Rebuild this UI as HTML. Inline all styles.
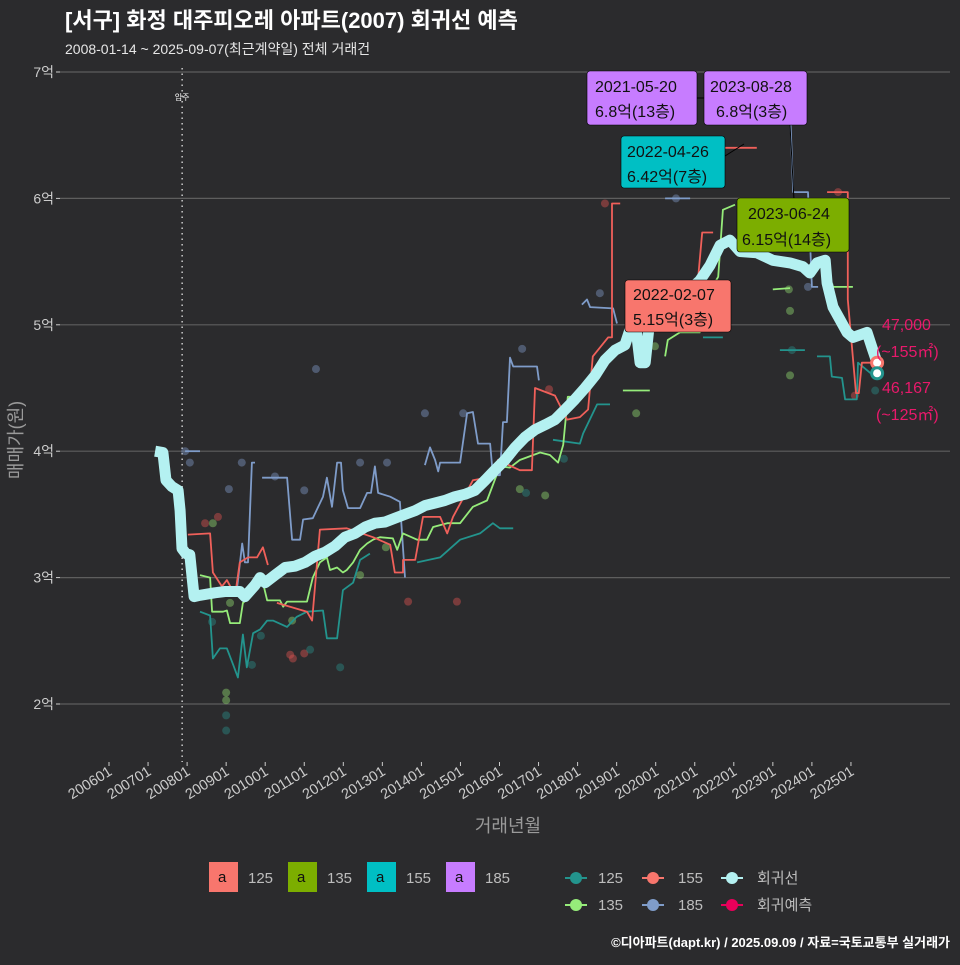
<!DOCTYPE html>
<html><head><meta charset="utf-8">
<style>
html,body{margin:0;padding:0;background:#2b2b2d;}
body{width:960px;height:960px;overflow:hidden;font-family:"Liberation Sans","Noto Sans CJK KR",sans-serif;}
svg text{font-family:"Liberation Sans","Noto Sans CJK KR",sans-serif;}
</style></head>
<body>
<svg id="chart" width="960" height="960" xmlns="http://www.w3.org/2000/svg">
<rect width="960" height="960" fill="#2b2b2d"/>
<text x="65" y="28" fill="#ffffff" font-size="22" font-weight="bold">[서구] 화정 대주피오레 아파트(2007) 회귀선 예측</text>
<text x="65" y="54" fill="#e6e6e6" font-size="14">2008-01-14 ~ 2025-09-07(최근계약일) 전체 거래건</text>
<g id="grid"></g>
<g id="axes"></g>
<g id="series"></g>
<text transform="translate(22,440) rotate(-90)" text-anchor="middle" fill="#9a9a9a" font-size="18">매매가(원)</text>
<text x="508" y="832" text-anchor="middle" fill="#9a9a9a" font-size="18">거래년월</text>
<text x="950" y="947" text-anchor="end" fill="#ffffff" font-size="13" font-weight="bold">©디아파트(dapt.kr) / 2025.09.09 / 자료=국토교통부 실거래가</text>
</svg>
<script>
// ---- data ----
const yTicks = [2,3,4,5,6,7];
const yTickLabels = ['2억','3억','4억','5억','6억','7억'];
const xTickYears = [2006,2007,2008,2009,2010,2011,2012,2013,2014,2015,2016,2017,2018,2019,2020,2021,2022,2023,2024,2025];
const xTickLabels = ['200601','200701','200801','200901','201001','201101','201201','201301','201401','201501','201601','201701','201801','201901','202001','202101','202201','202301','202401','202501'];
const moveInYear = 2007.95;

const regT = [2007.18,2007.38,2007.46,2007.61,2007.77,2007.82,2007.87,2007.97,2008.07,2008.18,2008.33,2008.71,2008.97,2009.23,2009.35,2009.48,2009.74,2009.87,2010.0,2010.25,2010.51,2010.76,2011.02,2011.28,2011.53,2011.79,2012.04,2012.30,2012.56,2012.81,2013.07,2013.32,2013.58,2013.84,2014.09,2014.35,2014.60,2014.86,2015.12,2015.37,2015.63,2015.88,2016.14,2016.40,2016.65,2016.91,2017.17,2017.42,2017.68,2017.93,2018.19,2018.45,2018.70,2018.96,2019.21,2019.34,2019.47,2019.60,2019.73,2019.85,2020.11,2020.37,2020.62,2020.88,2021.13,2021.39,2021.65,2021.90,2022.16,2022.59,2023.00,2023.44,2023.77,2023.95,2024.13,2024.34,2024.39,2024.54,2024.72,2024.90,2025.05,2025.41,2025.54,2025.67];
const regV = [4.00,3.99,3.77,3.72,3.69,3.53,3.23,3.19,3.18,2.85,2.86,2.88,2.89,2.89,2.89,2.85,2.94,3.0,2.96,3.02,3.08,3.09,3.12,3.17,3.20,3.25,3.32,3.35,3.40,3.43,3.44,3.47,3.50,3.53,3.57,3.59,3.61,3.64,3.66,3.69,3.77,3.85,3.93,4.03,4.11,4.17,4.21,4.25,4.33,4.41,4.50,4.60,4.72,4.80,4.84,4.96,5.04,4.70,4.70,5.04,5.08,5.08,5.20,5.28,5.35,5.47,5.63,5.67,5.58,5.57,5.51,5.49,5.46,5.41,5.49,5.51,5.33,5.14,5.04,4.94,4.90,4.94,4.82,4.70];

const red155T = [
 [2008.02,2008.59,2008.66,2008.89,2009.02,2009.23,2009.35,2009.56,2009.79,2009.94,2010.07],
 [2010.30,2011.07,2011.20,2011.40,2012.09,2012.76,2013.20,2013.32,2013.53,2013.53,2013.84,2014.04,2014.48,2014.66,2014.81,2015.32,2015.83,2015.96,2016.52,2016.83,2016.91,2017.42,2017.73,2018.06,2018.27,2018.39,2018.78,2018.88,2018.88,2019.09],
 [2021.08,2021.19,2021.47],
 [2021.65,2022.59],
 [2024.39,2024.92,2024.92,2025.13,2025.20,2025.28,2025.67]];
const red155V = [
 [3.34,3.35,3.04,2.93,2.98,2.86,3.12,3.16,3.16,3.24,3.10],
 [2.80,2.73,2.66,3.38,3.39,3.32,3.26,3.04,3.04,3.14,3.14,3.48,3.48,3.35,3.48,3.77,3.80,3.93,3.85,3.85,4.50,4.44,4.25,4.27,4.33,4.75,4.90,4.90,5.96,5.96],
 [5.35,5.73,5.73],
 [6.40,6.40],
 [6.05,6.05,5.20,4.46,4.46,4.70,4.70]];

const green135T = [
 [2008.33,2008.59,2008.64,2008.92,2009.02,2009.10,2009.35,2009.43,2009.61,2009.94,2010.05,2010.38,2010.46,2010.56,2011.07,2011.22,2011.40,2011.58,2011.66,2011.84,2011.99,2012.09,2012.25,2012.43,2012.61,2012.76,2012.94,2013.27,2013.38,2013.53,2013.89,2014.14,2014.30,2014.66,2014.99,2015.32,2015.68,2016.01,2016.27,2016.52,2017.04,2017.29,2017.50,2017.63,2017.75,2017.86],
 [2019.16,2019.85],
 [2020.24,2020.31,2020.62,2021.13,2021.26,2021.60,2021.72,2022.03],
 [2023.00,2023.44],
 [2024.46,2025.05]];
const green135V = [
 [3.02,3.00,2.73,2.73,2.74,2.64,2.64,2.80,2.85,2.96,2.82,2.82,2.77,2.81,2.81,3.00,3.12,3.16,3.06,3.08,3.04,3.06,3.12,3.22,3.27,3.30,3.32,3.31,3.22,3.35,3.30,3.30,3.40,3.43,3.43,3.56,3.61,3.88,3.87,3.93,3.99,3.97,3.91,4.05,4.43,4.43],
 [4.48,4.48],
 [4.75,4.88,4.94,4.94,5.20,5.38,5.91,5.95],
 [5.28,5.29],
 [5.30,5.30]];

const teal125T = [
 [2008.33,2008.59,2008.66,2008.84,2009.02,2009.18,2009.30,2009.43,2009.53,2009.69,2009.87,2010.05,2010.20,2010.56,2010.81,2011.07,2011.48,2011.58,2011.84,2011.99,2012.25,2012.43,2012.68],
 [2013.89,2014.48,2014.99,2015.50,2015.83,2016.01,2016.35],
 [2017.37,2018.06,2018.14,2018.50,2018.83],
 [2021.21,2021.72],
 [2023.18,2023.82],
 [2024.13,2024.46,2024.51,2024.77,2024.85,2025.15,2025.18,2025.49,2025.67]];
const teal125V = [
 [2.73,2.70,2.36,2.44,2.44,2.31,2.21,2.55,2.29,2.56,2.59,2.66,2.66,2.61,2.69,2.73,2.74,2.52,2.52,2.90,2.96,3.14,3.19],
 [3.12,3.16,3.30,3.35,3.43,3.39,3.39],
 [4.09,4.06,4.14,4.37,4.37],
 [4.90,4.90],
 [4.80,4.80],
 [4.75,4.75,4.59,4.58,4.41,4.41,4.70,4.62,4.62]];

const blue185T = [
 [2007.95,2008.33],
 [2008.66,2009.05,2009.28,2009.41,2009.48,2009.56,2009.66,2009.74],
 [2009.92,2010.56,2010.69,2010.89,2010.97,2011.22,2011.48,2011.58,2011.71,2011.84,2011.94,2011.99,2012.12,2012.43,2012.61,2012.71,2012.81,2012.89,2013.20,2013.45,2013.58],
 [2014.09,2014.22,2014.35,2014.43,2014.48,2014.99,2015.17,2015.32,2015.45,2015.76,2015.83,2016.01,2016.09,2016.19,2016.27,2016.35,2016.96,2017.01],
 [2018.11,2018.24,2018.32,2018.91,2019.01],
 [2020.24,2020.88],
 [2023.44,2023.52,2023.90,2024.00,2024.16]];
const blue185V = [
 [4.0,4.0],
 [2.88,2.89,2.92,3.27,3.12,3.12,3.91,3.91],
 [3.79,3.79,3.30,3.30,3.46,3.47,3.64,3.79,3.56,3.91,3.91,3.69,3.55,3.55,3.67,3.67,3.88,3.67,3.64,3.60,3.00],
 [3.89,4.03,3.93,3.84,3.91,3.91,4.30,4.31,4.06,4.06,3.81,3.81,4.23,4.23,4.74,4.67,4.67,4.56],
 [5.16,5.20,5.14,5.13,5.01],
 [6.0,6.0],
 [6.70,6.05,6.05,5.30,5.30]];

const dotType = ['155','155','155','155','155','155','155','155','155','155','155','155',
 '135','135','135','135','135','135','135','135','135','135','135','135','135','135','135',
 '125','125','125','125','125','125','125','125','125','125','125',
 '185','185','185','185','185','185','185','185','185','185','185','185','185','185','185'];
const dotT = [2008.46,2008.79,2010.64,2010.71,2011.0,2013.66,2014.91,2017.27,2018.70,2021.54,2024.67,2025.10,
 2009.0,2009.0,2008.66,2009.10,2010.69,2012.43,2013.09,2016.52,2017.17,2019.5,2019.98,2023.41,2023.44,2023.44,2024.46,
 2009.0,2009.0,2008.64,2009.66,2009.89,2011.15,2011.92,2016.68,2017.65,2023.49,2025.62,
 2007.95,2008.07,2009.07,2009.40,2010.25,2011.30,2011.0,2012.43,2013.12,2014.09,2015.07,2016.58,2018.57,2020.52,2023.90];
const dotV = [3.43,3.48,2.39,2.36,2.40,2.81,2.81,4.49,5.96,6.42,6.05,4.44,
 2.09,2.03,3.43,2.80,2.66,3.02,3.24,3.70,3.65,4.30,4.83,5.28,5.11,4.60,5.31,
 1.91,1.79,2.65,2.31,2.54,2.43,2.29,3.67,3.94,4.80,4.48,
 4.0,3.91,3.70,3.91,3.80,4.65,3.69,3.91,3.91,4.30,4.30,4.81,5.25,6.0,5.30];

const predT = [2025.67,2025.67];
const predV = [4.70,4.6167];

// ---- scales ----
const X0 = 109, XPY = 39.05, Y0 = 704, YPU = 126.4;
function xs(t){ return X0 + (t-2006)*XPY; }
function ys(v){ return Y0 - (v-2)*YPU; }
const NS='http://www.w3.org/2000/svg';
function mk(tag, parent, attrs){ const e=document.createElementNS(NS,tag); for(const k in attrs) e.setAttribute(k,attrs[k]); parent.appendChild(e); return e; }

const grid=document.getElementById('grid'), axes=document.getElementById('axes'), ser=document.getElementById('series');
yTicks.forEach((v,i)=>{
  const l=mk('line',grid,{x1:60,x2:950,y1:ys(v),y2:ys(v),stroke:'#5e5e5e','stroke-width':1.2});
  
  
  const tk=mk('line',axes,{x1:56,x2:60,y1:ys(v),y2:ys(v),stroke:'#cccccc','stroke-width':1});
  
  
  const t=mk('text',axes,{x:54,y:ys(v)+5,'text-anchor':'end',fill:'#cccccc','font-size':14});
  t.textContent=yTickLabels[i];
  
  
});
xTickYears.forEach((yr,i)=>{
  const x=xs(yr);
  const tk=mk('line',axes,{x1:x,x2:x,y1:762,y2:766,stroke:'#cccccc','stroke-width':1});
  
  
  const t=mk('text',axes,{x:x+4,y:774,'text-anchor':'end',fill:'#cccccc','font-size':14.5,transform:`rotate(-32 ${x+4} 774)`});
  t.textContent=xTickLabels[i];
  
  
});
const mv=mk('line',ser,{x1:xs(moveInYear)-3,x2:xs(moveInYear)-3,y1:68,y2:762,stroke:'#cccccc','stroke-width':1.5,'stroke-dasharray':'1.5 4'});


const mvt=mk('text',ser,{x:xs(moveInYear)-3,y:100,'text-anchor':'middle',fill:'#ffffff','font-size':8});
mvt.textContent='입주';



const dotColor={'125':'#2a8a86','135':'#8fd46e','155':'#d9534f','185':'#7d95c0'};
dotT.forEach((t,i)=>{
  const c=mk('circle',ser,{cx:xs(t),cy:ys(dotV[i]),r:4,fill:dotColor[dotType[i]],'fill-opacity':0.45});
  
  
});
function drawSeries(TT,VV,color,name,w){
  TT.forEach((arr,j)=>{
    const pts=arr.map((t,k)=>xs(t).toFixed(1)+','+ys(VV[j][k]).toFixed(1)).join(' ');
    const p=mk('polyline',ser,{points:pts,fill:'none',stroke:color,'stroke-width':w,'stroke-linejoin':'round'});
    
    
  });
}
drawSeries(teal125T,teal125V,'#23948d','line-125',1.8);
drawSeries(blue185T,blue185V,'#7f9cc9','line-185',1.8);
drawSeries(green135T,green135V,'#96ec7a','line-135',1.8);
drawSeries(red155T,red155V,'#f0605a','line-155',1.8);
drawSeries([regT],[regV],'#b4f1f1','regression-line',11);

const pc=['#f8766d','#23948d'];
predT.forEach((t,i)=>{
  const c=mk('circle',ser,{cx:xs(t),cy:ys(predV[i]),r:5.5,fill:'#ffffff',stroke:pc[i],'stroke-width':3});
  
  
});
</script>
<svg style="position:absolute;left:0;top:0" width="960" height="960">
<g font-size="16" fill="#111">
  <line x1="697" y1="98" x2="704" y2="98" stroke="#000"/>
  <line x1="725" y1="156" x2="744" y2="144" stroke="#000"/>
  <line x1="790" y1="125" x2="794" y2="200" stroke="#000"/>
  <g><rect x="587" y="71" width="110" height="54" rx="3" fill="#c77cff" stroke="#000" stroke-width="0.6"/><text x="595" y="92">2021-05-20</text><text x="595" y="117">6.8억(13층)</text></g>
  <g><rect x="704" y="71" width="103" height="54" rx="3" fill="#c77cff" stroke="#000" stroke-width="0.6"/><text x="710" y="92">2023-08-28</text><text x="716" y="117">6.8억(3층)</text></g>
  <g><rect x="621" y="136" width="104" height="52" rx="3" fill="#00bfc4" stroke="#000" stroke-width="0.6"/><text x="627" y="157">2022-04-26</text><text x="627" y="182">6.42억(7층)</text></g>
  <g><rect x="737" y="198" width="112" height="54" rx="3" fill="#7cae00" stroke="#000" stroke-width="0.6"/><text x="748" y="219">2023-06-24</text><text x="742" y="245">6.15억(14층)</text></g>
  <g><rect x="625" y="280" width="106" height="52" rx="3" fill="#f8766d" stroke="#000" stroke-width="0.6"/><text x="633" y="300">2022-02-07</text><text x="633" y="325">5.15억(3층)</text></g>
</g>
<g font-size="16" fill="#e8196b">
  <text x="882" y="330">47,000</text>
  <text x="876" y="357">(~155㎡)</text>
  <text x="882" y="393">46,167</text>
  <text x="876" y="420">(~125㎡)</text>
</g>
<g font-size="15" fill="#bdbdbd">
  <g><rect x="209" y="862" width="29" height="30" fill="#f8766d"/><text x="218" y="882" fill="#111">a</text><text x="248" y="883">125</text></g>
  <g><rect x="288" y="862" width="29" height="30" fill="#7cae00"/><text x="297" y="882" fill="#111">a</text><text x="327" y="883">135</text></g>
  <g><rect x="367" y="862" width="29" height="30" fill="#00bfc4"/><text x="376" y="882" fill="#111">a</text><text x="406" y="883">155</text></g>
  <g><rect x="446" y="862" width="29" height="30" fill="#c77cff"/><text x="455" y="882" fill="#111">a</text><text x="485" y="883">185</text></g>
  <g><line x1="565" x2="587" y1="878" y2="878" stroke="#23948d" stroke-width="2"/><circle cx="576" cy="878" r="6" fill="#23948d"/><text x="598" y="883">125</text></g>
  <g><line x1="642" x2="664" y1="878" y2="878" stroke="#f8766d" stroke-width="2"/><circle cx="653" cy="878" r="6" fill="#f8766d"/><text x="678" y="883">155</text></g>
  <g><line x1="721" x2="743" y1="878" y2="878" stroke="#b4f1f1" stroke-width="2"/><circle cx="732" cy="878" r="6" fill="#b4f1f1"/><text x="757" y="883">회귀선</text></g>
  <g><line x1="565" x2="587" y1="905" y2="905" stroke="#96ec7a" stroke-width="2"/><circle cx="576" cy="905" r="6" fill="#96ec7a"/><text x="598" y="910">135</text></g>
  <g><line x1="642" x2="664" y1="905" y2="905" stroke="#7f9cc9" stroke-width="2"/><circle cx="653" cy="905" r="6" fill="#7f9cc9"/><text x="678" y="910">185</text></g>
  <g><line x1="721" x2="743" y1="905" y2="905" stroke="#e8005a" stroke-width="2"/><circle cx="732" cy="905" r="6" fill="#e8005a"/><text x="757" y="910">회귀예측</text></g>
</g>
</svg>
</body></html>
